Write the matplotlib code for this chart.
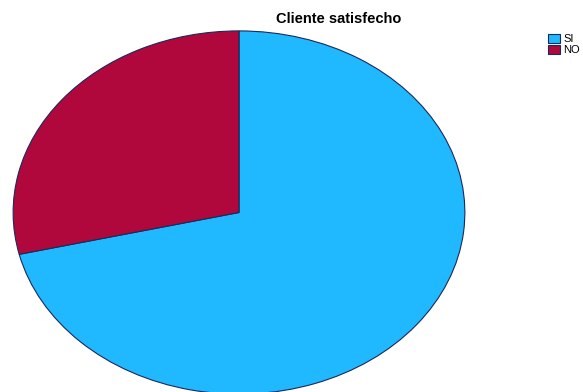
import matplotlib.pyplot as plt

labels = ["SI", "NO"]
values = [71.3, 28.7]
colors = ["#20b8ff", "#b0083c"]

plt.rcParams['font.family'] = ['Liberation Sans', 'DejaVu Sans']

fig = plt.figure(figsize=(5.83, 3.92), dpi=100)
ax = fig.add_axes([12/583, -3/392, 454/583, 365/392])
wedges, _ = ax.pie(values, colors=colors, startangle=90, counterclock=False,
                   wedgeprops=dict(edgecolor="#1a2a5a", linewidth=0.8))
ax.set_aspect('auto')
ax.set_xlim(-1.005, 1.005)
ax.set_ylim(-1.005, 1.005)

fig.text(339/583, 1 - 19/392, "Cliente satisfecho", ha="center", va="center",
         fontsize=10.5, fontweight="bold")

fig.legend(wedges, labels, loc="upper left", bbox_to_anchor=(542/583, 1 - 28/392),
           frameon=False, fontsize=8, handlelength=1.1, handleheight=0.9,
           handletextpad=0.3, labelspacing=0.05, borderpad=0)

fig.savefig("out.png", dpi=100)
